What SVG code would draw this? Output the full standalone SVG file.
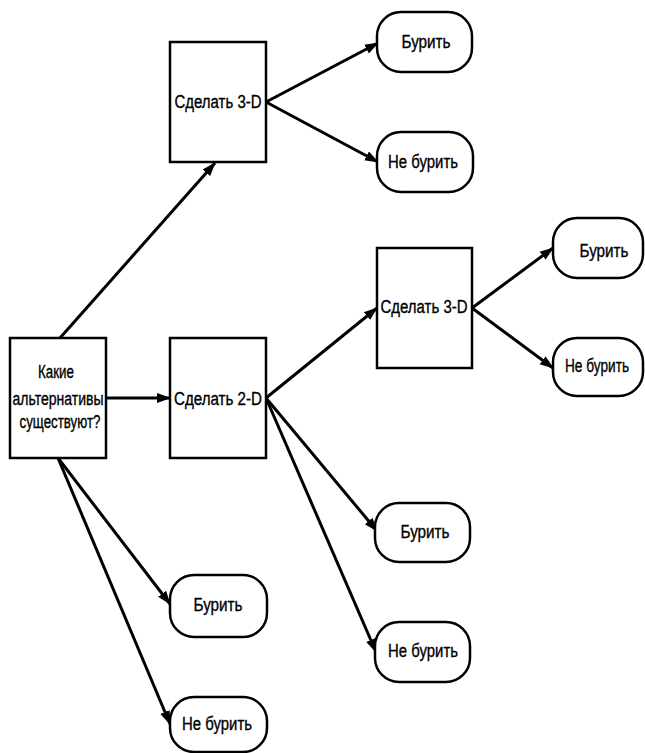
<svg xmlns="http://www.w3.org/2000/svg" width="645" height="753" viewBox="0 0 645 753">
<style>
.box{fill:#fff;stroke:#000;stroke-width:2.5}
.term{fill:#fff;stroke:#000;stroke-width:2.5}
.t{font-family:"Liberation Sans Narrow","Liberation Sans",Arial,sans-serif;font-size:18px;fill:#000;stroke:#000;stroke-width:0.35;text-anchor:middle}
.c{stroke:#000;stroke-width:3;fill:none;marker-end:url(#ah)}
</style>
<defs>
<marker id="ah" markerUnits="userSpaceOnUse" markerWidth="14" markerHeight="12" viewBox="0 0 14 12" refX="13" refY="6" orient="auto">
<path d="M0,1 L14,6 L0,11 Z" fill="#000"/>
</marker>
</defs>
<rect width="645" height="753" fill="#fff"/>
<g id="connectors">
<line class="c" x1="60" y1="338" x2="215" y2="163"/>
<line class="c" x1="106" y1="398" x2="170" y2="398"/>
<line class="c" x1="58" y1="458" x2="170" y2="604"/>
<line class="c" x1="58" y1="458" x2="170" y2="724"/>
<line class="c" x1="266" y1="102" x2="378" y2="43"/>
<line class="c" x1="266" y1="102" x2="378" y2="162"/>
<line class="c" x1="266" y1="398" x2="377" y2="308"/>
<line class="c" x1="266" y1="398" x2="377" y2="531"/>
<line class="c" x1="266" y1="398" x2="376" y2="652"/>
<line class="c" x1="472" y1="308" x2="553" y2="248"/>
<line class="c" x1="472" y1="308" x2="553" y2="368"/>
</g>
<g id="root">
<rect class="box" x="10" y="338" width="96" height="120"/>
<text class="t" x="56" y="378" textLength="36" lengthAdjust="spacingAndGlyphs">Какие</text>
<text class="t" x="58" y="405" textLength="91" lengthAdjust="spacingAndGlyphs">альтернативы</text>
<text class="t" x="60" y="428" textLength="81" lengthAdjust="spacingAndGlyphs">существуют?</text>
</g>
<g id="make2d">
<rect class="box" x="170" y="338" width="96" height="120"/>
<text class="t" x="218" y="405" textLength="88" lengthAdjust="spacingAndGlyphs">Сделать 2-D</text>
</g>
<g id="make3d-top">
<rect class="box" x="170" y="42" width="96" height="120"/>
<text class="t" x="218" y="108" textLength="87" lengthAdjust="spacingAndGlyphs">Сделать 3-D</text>
</g>
<g id="make3d-right">
<rect class="box" x="377" y="248" width="95" height="120"/>
<text class="t" x="424" y="313" textLength="87" lengthAdjust="spacingAndGlyphs">Сделать 3-D</text>
</g>
<g id="drill-1">
<rect class="term" x="377" y="12" width="95" height="60" rx="24"/>
<text class="t" x="426" y="48" textLength="49" lengthAdjust="spacingAndGlyphs">Бурить</text>
</g>
<g id="nodrill-1">
<rect class="term" x="377" y="132" width="96" height="60" rx="24"/>
<text class="t" x="423" y="168" textLength="70" lengthAdjust="spacingAndGlyphs">Не бурить</text>
</g>
<g id="drill-2">
<rect class="term" x="553" y="218" width="90" height="60" rx="24"/>
<text class="t" x="604" y="257" textLength="49" lengthAdjust="spacingAndGlyphs">Бурить</text>
</g>
<g id="nodrill-2">
<rect class="term" x="553" y="338" width="90" height="58" rx="24"/>
<text class="t" x="597" y="372" textLength="64" lengthAdjust="spacingAndGlyphs">Не бурить</text>
</g>
<g id="drill-3">
<rect class="term" x="375" y="503" width="95" height="59" rx="24"/>
<text class="t" x="425" y="538" textLength="49" lengthAdjust="spacingAndGlyphs">Бурить</text>
</g>
<g id="nodrill-3">
<rect class="term" x="375" y="622" width="95" height="60" rx="24"/>
<text class="t" x="423" y="657" textLength="70" lengthAdjust="spacingAndGlyphs">Не бурить</text>
</g>
<g id="drill-4">
<rect class="term" x="170" y="575" width="97" height="62" rx="24"/>
<text class="t" x="218" y="611" textLength="49" lengthAdjust="spacingAndGlyphs">Бурить</text>
</g>
<g id="nodrill-4">
<rect class="term" x="170" y="697" width="97" height="55" rx="24"/>
<text class="t" x="217" y="730" textLength="70" lengthAdjust="spacingAndGlyphs">Не бурить</text>
</g>
</svg>
